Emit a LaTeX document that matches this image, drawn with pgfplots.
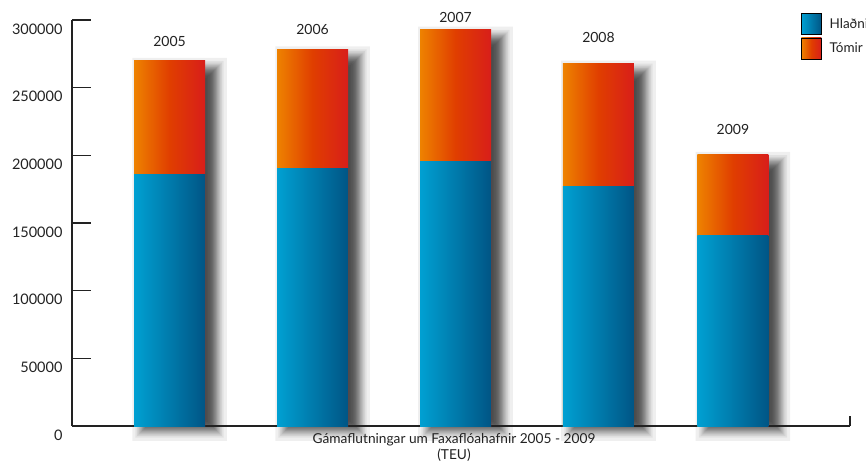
\documentclass[border=0pt]{standalone}
\usepackage{pgfplots}
\pgfplotsset{compat=1.18}
\usepackage{pgfplotstable}
\usepackage{fontspec}
\setmainfont{Lato}
\definecolor{blL}{HTML}{00A0D2}
\definecolor{blR}{HTML}{005585}
\definecolor{orL}{HTML}{EE8200}
\definecolor{orM}{HTML}{E03E00}
\definecolor{orR}{HTML}{D81E1A}
\definecolor{txt}{HTML}{222222}

\pgfplotstableread{
x hl tom tot
0 186000 84000 270000
1 190000 88500 278500
2 195500 97500 293000
3 177000 91000 268000
3.94 140500 60000 200500
}\data

\begin{document}
\begin{tikzpicture}[font=\fontsize{14}{16}\selectfont]
\useasboundingbox (0,0) rectangle (866pt,463pt);
\pgfplotsset{base/.style={width=778pt,height=406pt,scale only axis,
  at={(72pt,37pt)}, anchor=south west,
  xmin=-0.682,xmax=4.759,ymin=0,ymax=300000, clip=false}}
\begin{axis}[base, hide axis]
\pgfplotsinvokeforeach{-11.76,-8.64,-6.9,-5.58,-4.53,-3.6,-2.72,-1.91,-1.13,-0.38,0.38,1.13,1.91,2.72,3.6,4.53,5.58,6.9,8.64,11.76}{
  \addplot[ybar, bar width={71pt+2*(#1pt)}, bar shift=10pt, yshift={-3pt-(#1pt)},
    draw=none, fill=black, fill opacity=0.062]
    table[x=x, y expr={\thisrow{tot}+(2*(#1)-6)*738.9}]{\data};
}
\end{axis}
\begin{axis}[base,
  axis x line=bottom, axis y line=left,
  axis line style={-, line width=1.3pt, txt},
  every outer x axis line/.append style={-},
  every outer y axis line/.append style={-},
  ytick={0,50000,100000,150000,200000,250000,300000},
  yticklabels={0,50000,100000,150000,200000,250000,300000},
  xtick=\empty,
  tick align=inside, major tick length=19pt,
  tick style={line width=1.3pt, txt},
  scaled y ticks=false,
  yticklabel style={font=\fontsize{14.5}{16}\selectfont, text=txt, yshift=-9pt, xshift=-6pt},
  xlabel={Gámaflutningar um Faxaflóahafnir 2005 - 2009\\(TEU)},
  xlabel style={align=center, text=txt, font=\fontsize{13.7}{16}\selectfont, xshift=-7pt, yshift=-4pt},
]
\addplot[draw=none, forget plot] coordinates {(0,0)};
\draw[line width=1.3pt, txt, line cap=butt] (axis cs:4.759,0) -- ++(0pt,10pt);
\end{axis}
\begin{axis}[base, hide axis, ybar, bar width=71pt,
  legend style={at={(rel axis cs:0.937,1.017)}, anchor=north west,
    draw=none, fill=none, inner sep=0pt, row sep=3pt,
    font=\fontsize{13.5}{15}\selectfont, text=txt},
  legend cell align=left,
]
\pgfplotsinvokeforeach{0,...,4}{
  \addplot[forget plot, bar shift=0pt, draw=none, left color=orL, right color=orR, middle color=orM,
    restrict expr to domain={\coordindex}{#1:#1}]
    table[x=x,y=tot]{\data};
}
\pgfplotsinvokeforeach{0,...,4}{
  \addplot[forget plot, bar shift=0pt, draw=none, left color=blL, right color=blR,
    restrict expr to domain={\coordindex}{#1:#1}]
    table[x=x,y=hl]{\data};
}
\addlegendimage{legend image code/.code={\shade[left color=blL,right color=blR] (0pt,-10.5pt) rectangle (20pt,10.5pt); \path (26pt,0pt);}}
\addlegendentry{Hlaðnir}
\addlegendimage{legend image code/.code={\shade[left color=orL,right color=orR,middle color=orM] (0pt,-10.5pt) rectangle (20pt,10.5pt); \path (26pt,0pt);}}
\addlegendentry{Tómir}
\node[text=txt] at (axis cs:0,283900) {2005};
\node[text=txt] at (axis cs:1,292800) {2006};
\node[text=txt] at (axis cs:2,301700) {2007};
\node[text=txt] at (axis cs:3,286900) {2008};
\node[text=txt] at (axis cs:3.94,218900) {2009};
\end{axis}
\end{tikzpicture}
\end{document}
